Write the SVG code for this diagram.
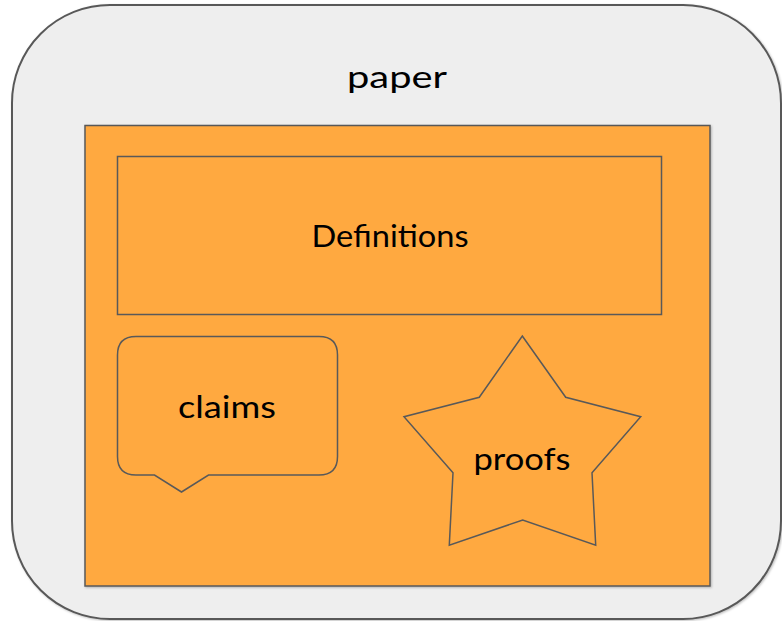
<svg xmlns="http://www.w3.org/2000/svg" width="782" height="621" viewBox="0 0 782 621">
  <defs>
    <filter id="shadow" x="-5%" y="-5%" width="110%" height="110%">
      <feDropShadow dx="1" dy="1" stdDeviation="1" flood-color="#000" flood-opacity="0.25"/>
    </filter>
  </defs>
  <style>
    .frame { fill: #eeeeee; stroke: #595959; stroke-width: 2; }
    .box { fill: #ffa940; stroke: #595959; stroke-width: 1.5; }
    .label { font-family: Lato, "Open Sans", sans-serif; font-size: 31px; fill: #000; text-anchor: middle; }
  </style>

  <g id="paper">
    <rect class="frame" x="12" y="5" width="769" height="614" rx="98" ry="98" filter="url(#shadow)"/>
    <text class="label" x="397" y="88" textLength="100" lengthAdjust="spacingAndGlyphs">paper</text>
  </g>

  <g id="body">
    <rect class="box" x="85" y="125.5" width="625" height="460.5" filter="url(#shadow)"/>
  </g>

  <g id="definitions">
    <rect class="box" x="117.5" y="156.5" width="544" height="158"/>
    <text class="label" x="390" y="247" textLength="157" lengthAdjust="spacingAndGlyphs">Definitions</text>
  </g>

  <g id="claims">
    <path class="box" d="M136 336.5 H319 Q337.5 336.5 337.5 355 V456.5 Q337.5 475 319 475 H208.5 L181.5 492 L154.5 475 H136 Q117.5 475 117.5 456.5 V355 Q117.5 336.5 136 336.5 Z"/>
    <text class="label" x="227" y="418" textLength="98" lengthAdjust="spacingAndGlyphs">claims</text>
  </g>

  <g id="proofs">
    <polygon class="box" points="522.3,336 565.7,397.3 640.7,416.7 592,472.7 595.7,545.3 522.7,520 449.3,545.3 453,472.7 404,416.7 479.3,397.3"/>
    <text class="label" x="522" y="470" textLength="97" lengthAdjust="spacingAndGlyphs">proofs</text>
  </g>

  <g id="connectors"/>
</svg>
